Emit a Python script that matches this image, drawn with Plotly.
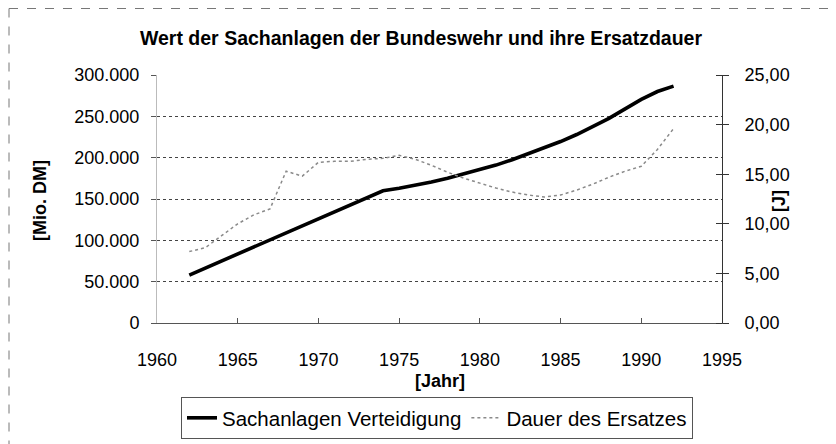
import plotly.graph_objects as go

years = list(range(1962, 1993))
sachanlagen = [58000, 66500, 75000, 83500, 92000, 100500, 109000, 117500, 126000, 134500,
               143000, 151500, 160000, 163000, 166500, 170500, 175000, 180000, 185000, 191000,
               197500, 204500, 211500, 219500, 228000, 237500, 247500, 259000, 270500, 280000,
               286500]
dauer = [7.2, 7.6, 8.8, 10.0, 10.9, 11.5, 15.3, 14.8, 16.2, 16.3,
         16.3, 16.5, 16.6, 16.9, 16.5, 15.9, 15.2, 14.6, 14.1, 13.6,
         13.2, 12.9, 12.7, 12.9, 13.4, 14.0, 14.7, 15.3, 15.8, 17.5,
         19.6]

title_text = "Wert der Sachanlagen der Bundeswehr und ihre Ersatzdauer"
name_a = "Sachanlagen Verteidigung"
name_b = "Dauer des Ersatzes"

FONT = "Liberation Sans, Arial, sans-serif"

fig = go.Figure()
fig.add_trace(go.Scatter(x=years, y=sachanlagen, name=name_a, mode="lines",
                         line=dict(color="#000000", width=3.6), yaxis="y"))
fig.add_trace(go.Scatter(x=years, y=dauer, name=name_b, mode="lines",
                         line=dict(color="#8a8a8a", width=1.5, dash="dot"), yaxis="y2"))

OFF = 8  # page body margin
W, H = 836 - OFF, 444 - OFF
# plot area in reference (window) pixels
RL, RR, RT, RB = 157, 722, 75, 323
L, R, T, B = RL - OFF, RR - OFF, RT - OFF, RB - OFF
def px(x): return (x - RL) / (RR - RL)
def py(y): return (RB - y) / (RB - RT)

fig.update_layout(
    width=W, height=H,
    margin=dict(l=L, r=W - R, t=T, b=H - B, autoexpand=False),
    paper_bgcolor="white", plot_bgcolor="white",
    separators=",.",
    font=dict(family=FONT, size=18, color="#000000"),
    title=dict(text="<b>" + title_text + "</b>", x=px(421), xref="paper", xanchor="center",
               y=1 - (38 - OFF) / H, yref="container", yanchor="middle",
               font=dict(family=FONT, size=19.5, color="#000000")),
    xaxis=dict(range=[1960, 1995], dtick=5, tick0=1960, showgrid=False,
               showline=True, linecolor="#555555", linewidth=1,
               ticks="inside", ticklen=5, tickcolor="#555555",
               ticklabelstandoff=20, tickfont=dict(size=18)),
    yaxis=dict(range=[0, 300000], dtick=50000, tickformat=",d",
               showgrid=True, gridcolor="#444444", griddash="dot", gridwidth=1,
               zeroline=False, showline=True, linecolor="#bbbbbb", linewidth=1,
               ticks="outside", ticklen=5, tickcolor="#555555",
               ticklabelstandoff=8, tickfont=dict(size=18)),
    yaxis2=dict(range=[0, 25], dtick=5, tickformat=".2f", overlaying="y", side="right",
                showgrid=False, zeroline=False, showline=True, linecolor="#333333", linewidth=1,
                ticks="outside", ticklen=6, tickcolor="#333333",
                minor=dict(dtick=5, ticks="inside", ticklen=6, tickcolor="#333333"),
                ticklabelstandoff=12, tickfont=dict(size=18)),
    showlegend=True,
    legend=dict(orientation="h", x=px(437), xanchor="center", y=py(397), yanchor="top",
                bordercolor="#555555", borderwidth=1, bgcolor="white",
                font=dict(family=FONT, size=20.5), itemwidth=30, tracegroupgap=0),
    annotations=[
        dict(text="<b>[Mio. DM]</b>", x=px(40), y=py(201), xref="paper", yref="paper",
             textangle=-90, showarrow=False, font=dict(size=18), xanchor="center", yanchor="middle"),
        dict(text="<b>[J]</b>", x=px(779), y=py(201), xref="paper", yref="paper",
             textangle=-90, showarrow=False, font=dict(size=18), xanchor="center", yanchor="middle"),
        dict(text="<b>[Jahr]</b>", x=px(440), y=py(381), xref="paper", yref="paper",
             showarrow=False, font=dict(size=18), xanchor="center", yanchor="middle"),
    ],
    shapes=[
        dict(type="line", xref="paper", yref="paper", x0=px(9), x1=px(9), y0=py(8.5), y1=py(444),
             line=dict(color="#777777", width=1, dash="dash")),
        dict(type="line", xref="paper", yref="paper", x0=px(9), x1=px(836), y0=py(8.5), y1=py(8.5),
             line=dict(color="#777777", width=1, dash="dash")),
    ],
)

fig.write_html("out.html")
